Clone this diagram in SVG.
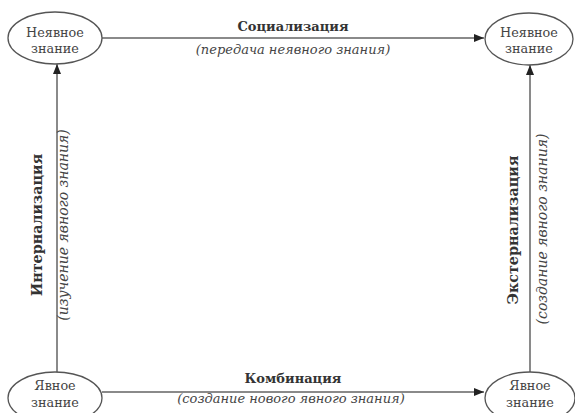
<svg xmlns="http://www.w3.org/2000/svg" width="575" height="413" viewBox="0 0 575 413">
  <style>
    .node ellipse { fill: #ffffff; stroke: #555555; stroke-width: 1.3; }
    .node text { font-family: "DejaVu Serif", "Liberation Serif", serif; font-size: 12.8px; fill: #444444; text-anchor: middle; }
    .edge { stroke: #8a8a8a; stroke-width: 2; fill: none; }
    .title { font-family: "DejaVu Serif", "Liberation Serif", serif; font-size: 13px; font-weight: bold; fill: #333333; text-anchor: middle; }
    .sub { font-family: "DejaVu Serif", "Liberation Serif", serif; font-size: 13px; font-style: italic; fill: #444444; text-anchor: middle; }
    .vtitle { font-size: 14.3px; }
    .vsub { font-size: 14px; }
  </style>
  <defs>
    <marker id="arrow" viewBox="0 0 10 8" refX="10" refY="4" markerWidth="10" markerHeight="8" markerUnits="userSpaceOnUse" orient="auto">
      <path d="M0,0 L10,4 L0,8 Z" fill="#222222"/>
    </marker>
  </defs>
  <rect width="575" height="413" fill="#ffffff"/>

  <g id="connectors">
    <line class="edge" x1="102" y1="38" x2="484" y2="38" marker-end="url(#arrow)"/>
    <line class="edge" x1="102" y1="392" x2="484" y2="392" marker-end="url(#arrow)"/>
    <line class="edge" x1="57" y1="372" x2="57" y2="64" marker-end="url(#arrow)"/>
    <line class="edge" x1="530" y1="372" x2="530" y2="65" marker-end="url(#arrow)"/>
  </g>

  <g id="labels">
    <text class="title" x="293" y="31">Социализация</text>
    <text class="sub" x="293" y="54">(передача неявного знания)</text>
    <text class="title" x="293" y="383">Комбинация</text>
    <text class="sub" x="291" y="403">(создание нового явного знания)</text>
    <text class="title vtitle" transform="translate(42,225) rotate(-90)">Интернализация</text>
    <text class="sub vsub" transform="translate(68,225) rotate(-90)">(изучение явного знания)</text>
    <text class="title vtitle" transform="translate(518,230) rotate(-90)">Экстернализация</text>
    <text class="sub vsub" transform="translate(547,229) rotate(-90)">(создание явного знания)</text>
  </g>

  <g id="tacit-top-left" class="node">
    <ellipse cx="55" cy="38" rx="47" ry="26"/>
    <text x="55" y="37">Неявное</text>
    <text x="55" y="53">знание</text>
  </g>
  <g id="tacit-top-right" class="node">
    <ellipse cx="529" cy="39" rx="44" ry="26"/>
    <text x="529" y="37">Неявное</text>
    <text x="529" y="53">знание</text>
  </g>
  <g id="explicit-bottom-left" class="node">
    <ellipse cx="55" cy="398" rx="47" ry="26"/>
    <text x="55" y="390">Явное</text>
    <text x="55" y="407">знание</text>
  </g>
  <g id="explicit-bottom-right" class="node">
    <ellipse cx="530" cy="398" rx="45" ry="26"/>
    <text x="530" y="390">Явное</text>
    <text x="530" y="407">знание</text>
  </g>
</svg>
